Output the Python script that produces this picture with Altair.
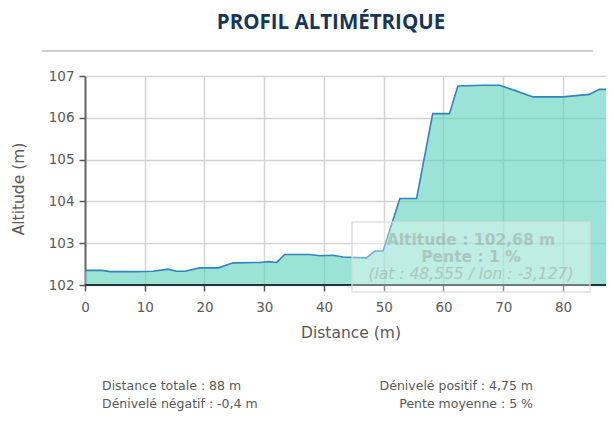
import altair as alt
import pandas as pd

# Profile data (distance in m, altitude in m)
distance = [0, 2.8, 4.2, 8.6, 11.4, 13.9, 15.3, 16.7, 19.2, 22.3, 24.8, 29.3, 30.7,
            32.1, 33.4, 37.6, 39.3, 41.5, 43.2, 47.1, 48.5, 49.9, 52.7, 55.5, 58.2,
            61.0, 62.4, 66.6, 69.4, 72.0, 75.0, 80.0, 84.4, 86.1, 88.5]
altitude = [102.35, 102.35, 102.32, 102.32, 102.33, 102.38, 102.33, 102.33, 102.41,
            102.41, 102.53, 102.54, 102.56, 102.54, 102.73, 102.73, 102.70, 102.71,
            102.67, 102.65, 102.81, 102.82, 104.07, 104.07, 106.10, 106.10, 106.76,
            106.78, 106.78, 106.65, 106.50, 106.50, 106.56, 106.68, 106.68]

x_ticks = [0, 10, 20, 30, 40, 50, 60, 70, 80]
y_ticks = [102, 103, 104, 105, 106, 107]

title_text = "PROFIL ALTIMÉTRIQUE"
x_title = "Distance (m)"
y_title = "Altitude (m)"
footer_left = ["Distance totale : 88 m", "Dénivelé négatif : -0,4 m"]
footer_right = ["Dénivelé positif : 4,75 m", "Pente moyenne : 5 %"]
tooltip_lines = ["Altitude : 102,68 m", "Pente : 1 %", "(lat : 48,555 / lon : -3,127)"]

df = pd.DataFrame({"distance": distance, "altitude": altitude})
one = pd.DataFrame({"k": [0]})

FONT = "DejaVu Sans"
GREY = "#5a5a5a"

xenc = alt.X("distance:Q",
             scale=alt.Scale(domain=[0, 87.2], nice=False, zero=False),
             axis=alt.Axis(values=x_ticks, title=None, grid=True, gridColor="#d4d4d4",
                           gridWidth=1.5, domain=False, tickColor="#555555", tickSize=6,
                           tickWidth=1.5, labelFont=FONT, labelFontSize=13.5,
                           labelColor=GREY, labelPadding=9, labelFlush=False))
yenc = alt.Y("altitude:Q",
             scale=alt.Scale(domain=[102, 107], nice=False, zero=False),
             axis=alt.Axis(values=y_ticks, title=None, grid=True, gridColor="#d4d4d4",
                           gridWidth=1.5, domainColor="#666666", domainWidth=2,
                           tickColor="#555555", tickSize=6, tickWidth=1.5,
                           labelFont=FONT, labelFontSize=13.5, labelColor=GREY,
                           labelPadding=5))

area = alt.Chart(df).mark_area(color="#58d0b7", opacity=0.6, clip=False).encode(
    x=xenc, y=yenc, y2=alt.datum(102))
line = alt.Chart(df).mark_line(color="#2f86bd", strokeWidth=1.6, clip=False).encode(
    x="distance:Q", y="altitude:Q")
base_rule = alt.Chart(one).mark_rule(color="#1f3535", strokeWidth=2).encode(
    y=alt.datum(102), x=alt.value(0), x2=alt.value(530))

def txt(s, x, y, size, weight="normal", align="center", color=GREY, font=FONT,
        angle=0, style="normal", opacity=1.0):
    return alt.Chart(one).mark_text(
        text=s, font=font, fontSize=size, fontWeight=weight, align=align,
        baseline="middle", color=color, angle=angle, fontStyle=style,
        opacity=opacity).encode(x=alt.value(x), y=alt.value(y))

title = txt(title_text, 246, -53, 20.5, weight="bold", color="#15365c", font="Open Sans")
sep = alt.Chart(one).mark_rule(color="#cfcfcf", strokeWidth=2).encode(
    x=alt.value(-43), x2=alt.value(508), y=alt.value(-25))

xt = txt(x_title, 266, 257, 15.5)
yt = txt(y_title, -66, 113, 15.5, angle=270)

f1 = txt(footer_left[0], 17, 310, 12.5, align="left")
f2 = txt(footer_left[1], 17, 328, 12.5, align="left")
f3 = txt(footer_right[0], 448, 310, 12.5, align="right")
f4 = txt(footer_right[1], 448, 328, 12.5, align="right")

tip_box = alt.Chart(one).mark_rect(fill="white", fillOpacity=0.35, stroke="#d8d8d8",
                                   strokeOpacity=0.8, strokeWidth=1.5).encode(
    x=alt.value(267), x2=alt.value(505), y=alt.value(146), y2=alt.value(216))
tip_c = "#9aa8a5"
t1 = txt(tooltip_lines[0], 386, 164, 15.5, weight="bold", color=tip_c, opacity=0.55)
t2 = txt(tooltip_lines[1], 386, 181, 15.5, weight="bold", color=tip_c, opacity=0.55)
t3 = txt(tooltip_lines[2], 386, 198, 15.5, style="italic", color=tip_c, opacity=0.55)

chart = alt.layer(area, line, base_rule, tip_box, t1, t2, t3, title, sep, xt, yt,
                  f1, f2, f3, f4).properties(
    width=521, height=209,
    autosize=alt.AutoSizeParams(type="none"),
    padding={"left": 77, "top": 68, "right": 0, "bottom": 128},
).configure_view(stroke=None).configure(background="white")

chart.save("out.html", embed_options={"renderer": "svg", "actions": False})
